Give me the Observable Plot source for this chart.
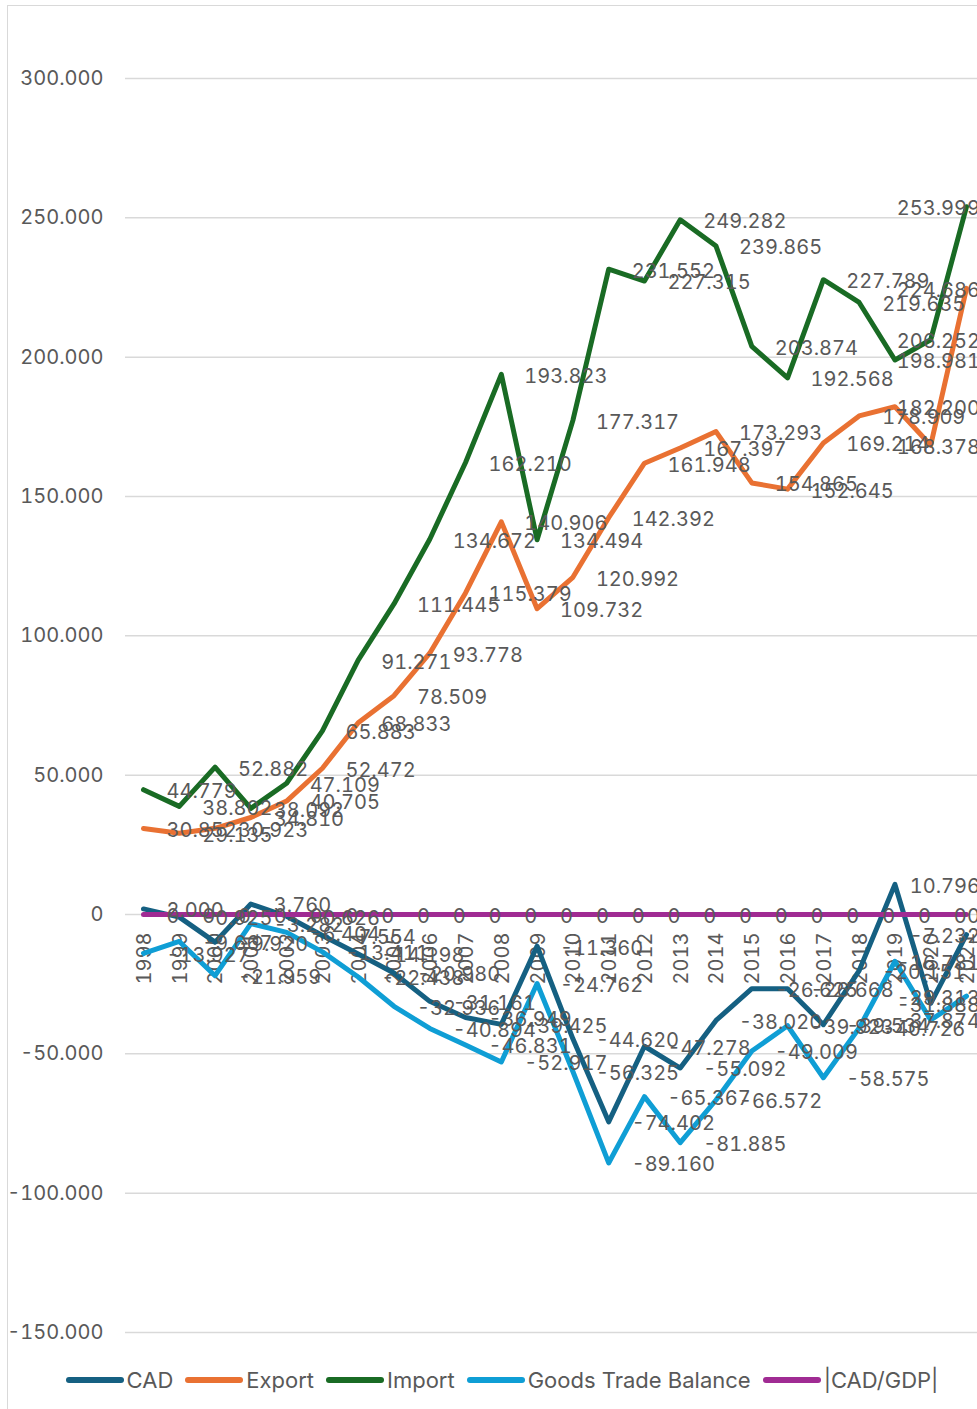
<!DOCTYPE html>
<html><head><meta charset="utf-8">
<script src="https://cdn.jsdelivr.net/npm/d3@7"></script>
<script src="https://cdn.jsdelivr.net/npm/@observablehq/plot@0.6"></script>
<style>
html,body{margin:0;padding:0;background:#fff;overflow:hidden;width:977px;height:1409px;position:relative;}
#chart{position:absolute;left:0;top:0;}
#chart svg{font-variant-numeric:tabular-nums;}
#legend{position:absolute;left:7px;top:1352px;width:990px;height:56px;display:flex;justify-content:center;align-items:center;font-family:Inter,sans-serif;font-size:22px;color:#595959;}
.item{display:flex;align-items:center;margin:0 6px;}
.item svg{margin-right:3px;}
#frame{position:absolute;left:7px;top:5px;width:990px;height:1420px;border:1.5px solid #d9d9d9;box-sizing:border-box;pointer-events:none;}
</style></head><body>
<div id="chart"></div>
<div id="legend"></div>
<div id="frame"></div>
<script>
const years = [1998,1999,2000,2001,2002,2003,2004,2005,2006,2007,2008,2009,2010,2011,2012,2013,2014,2015,2016,2017,2018,2019,2020,2021];
const cad = [2.000,-0.925,-9.920,3.760,-0.626,-7.554,-14.198,-20.980,-31.161,-36.949,-39.425,-11.360,-44.620,-74.402,-47.278,-55.092,-38.020,-26.625,-26.668,-39.534,-20.151,10.796,-31.888,-7.232];
const exportsV = [30.852,29.135,30.923,34.810,40.705,52.472,68.833,78.509,93.778,115.379,140.906,109.732,120.992,142.392,161.948,167.397,173.293,154.865,152.645,169.214,178.909,182.200,168.378,224.686];
const importsV = [44.779,38.802,52.882,38.092,47.109,65.883,91.271,111.445,134.672,162.210,193.823,134.494,177.317,231.552,227.315,249.282,239.865,203.874,192.568,227.789,219.635,198.981,206.252,253.999];
const gtb = [-13.927,-9.667,-21.959,-3.282,-6.404,-13.411,-22.438,-32.936,-40.894,-46.831,-52.917,-24.762,-56.325,-89.160,-65.367,-81.885,-66.572,-49.009,-39.923,-58.575,-40.726,-16.781,-37.874,-29.313];
const cadGdp = [0,0,0,0,0,0,0,0,0,0,0,0,0,0,0,0,0,0,0,0,0,0,0,0];
const yTicks = [-150,-100,-50,0,50,100,150,200,250,300];
const seriesNames = ["CAD","Export","Import","Goods Trade Balance","|CAD/GDP|"];
const seriesColors = ["#156082","#E97132","#196B24","#0F9ED5","#A02B93"];
const seriesValues = [cad, exportsV, importsV, gtb, cadGdp];

const fmt = v => v === 0 ? "0" : v.toFixed(3);
const rowsOf = vals => years.map((y, i) => ({year: y, value: vals[i]}));

const lineMarks = seriesValues.map((vals, k) => Plot.line(rowsOf(vals), {
  x: "year", y: "value", stroke: seriesColors[k], strokeWidth: 5,
  strokeLinejoin: "round", strokeLinecap: "round"
}));
const labelMarks = seriesValues.map((vals) => Plot.text(rowsOf(vals), {
  x: "year", y: "value", text: d => fmt(d.value), textAnchor: "start",
  lineAnchor: "middle", dx: 23, dy: 2, fill: "#595959", fontSize: 20
}));

const plot = Plot.plot({
  width: 977, height: 1350,
  marginLeft: 125, marginRight: 0, marginTop: 78, marginBottom: 18,
  x: {domain: [1998, 2021], range: [143, 966], axis: null},
  y: {domain: [-150, 300], axis: null},
  style: {fontFamily: "Inter, sans-serif", fontSize: "20px", background: "transparent"},
  marks: [
    Plot.gridY(yTicks, {stroke: "#d9d9d9", strokeOpacity: 1, strokeWidth: 1.5}),
    Plot.axisY(yTicks, {tickSize: 0, tickPadding: 22, tickFormat: fmt, fontSize: 20, color: "#595959", label: null}),
    Plot.text(years, {x: d => d, y: () => 0, text: d => String(d), rotate: -90,
      textAnchor: "end", lineAnchor: "middle", dy: 18, dx: 1, fill: "#595959", fontSize: 20}),
    ...lineMarks,
    ...labelMarks
  ]
});
document.getElementById("chart").appendChild(plot);

// keep data labels inside the chart area (as Excel does)
const rightEdge = 980;
plot.querySelectorAll("text").forEach(t => {
  const r = t.getBoundingClientRect();
  const over = r.right - rightEdge;
  if (over > 0) t.setAttribute("transform", `translate(${-over},0) ${t.getAttribute("transform") || ""}`);
});

const legend = document.getElementById("legend");
seriesNames.forEach((name, k) => {
  const item = document.createElement("div");
  item.className = "item";
  item.innerHTML = `<svg width="58" height="10"><line x1="3" y1="5" x2="55" y2="5" stroke="${seriesColors[k]}" stroke-width="6" stroke-linecap="round"/></svg><span>${name}</span>`;
  legend.appendChild(item);
});
</script>
</body></html>
